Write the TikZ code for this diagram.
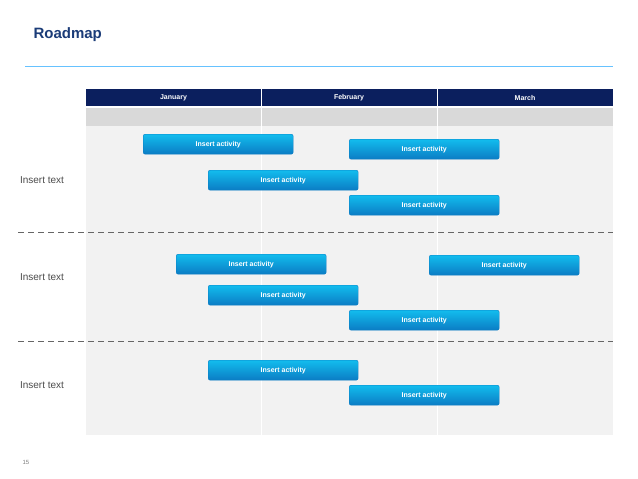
\documentclass[tikz,border=0pt]{standalone}
\usepackage{fontspec}
\setmainfont{Liberation Sans}
\definecolor{navy}{HTML}{0B1F5E}
\definecolor{titleblue}{HTML}{1B3C78}
\definecolor{barblue}{HTML}{1AA0E6}
\definecolor{bardark}{HTML}{0B7CC4}
\begin{document}
\begin{tikzpicture}[x=1pt,y=-1pt,
  actbar/.style={rounded corners=2pt,top color=barblue!70!cyan,bottom color=bardark,draw=bardark,minimum width=150pt,minimum height=20pt,inner sep=0pt,text=white,font=\bfseries\fontsize{7}{8}\selectfont,anchor=north west},
  side/.style={text=black!70,font=\fontsize{10}{12}\selectfont},
  month/.style={text=white,font=\bfseries\fontsize{7}{8}\selectfont},
  sep/.style={dashed,dash pattern=on 6pt off 4pt,draw=black!60,line width=0.8pt}]
\useasboundingbox (0,0) rectangle (638,479);
\fill[white] (0,0) rectangle (638,479);
\node[anchor=west,text=titleblue,font=\bfseries\fontsize{15}{18}\selectfont] (title) at (30,35) {Roadmap};
\draw[draw=blue!40!cyan!60,line width=1pt] (25,66) -- (613,66);
\fill[black!5] (86,126) rectangle (613,435);
\fill[black!15] (86,108) rectangle (613,126);
\fill[navy] (86,89) rectangle (613,106);
\foreach \x in {261,437}{\draw[white,line width=1pt] (\x,89) -- (\x,435);}
\node[month] (jan) at (173.5,97.5) {January};
\node[month] (feb) at (349,97.5) {February};
\node[month] (mar) at (525,97.5) {March};
\draw[sep] (18,232) -- (613,232);
\draw[sep] (18,341) -- (613,341);
\node[side] (t1) at (42,180) {Insert text};
\node[side] (t2) at (42,277) {Insert text};
\node[side] (t3) at (42,385) {Insert text};
\node[actbar] (a1) at (143,134) {Insert activity};
\node[actbar] (a2) at (349,139) {Insert activity};
\node[actbar] (a3) at (208,170) {Insert activity};
\node[actbar] (a4) at (349,195) {Insert activity};
\node[actbar] (a5) at (176,254) {Insert activity};
\node[actbar] (a6) at (429,255) {Insert activity};
\node[actbar] (a7) at (208,285) {Insert activity};
\node[actbar] (a8) at (349,310) {Insert activity};
\node[actbar] (a9) at (208,360) {Insert activity};
\node[actbar] (a10) at (349,385) {Insert activity};
\node[text=black!50,font=\fontsize{6}{7}\selectfont] (pg) at (26,462) {15};
\end{tikzpicture}
\end{document}
